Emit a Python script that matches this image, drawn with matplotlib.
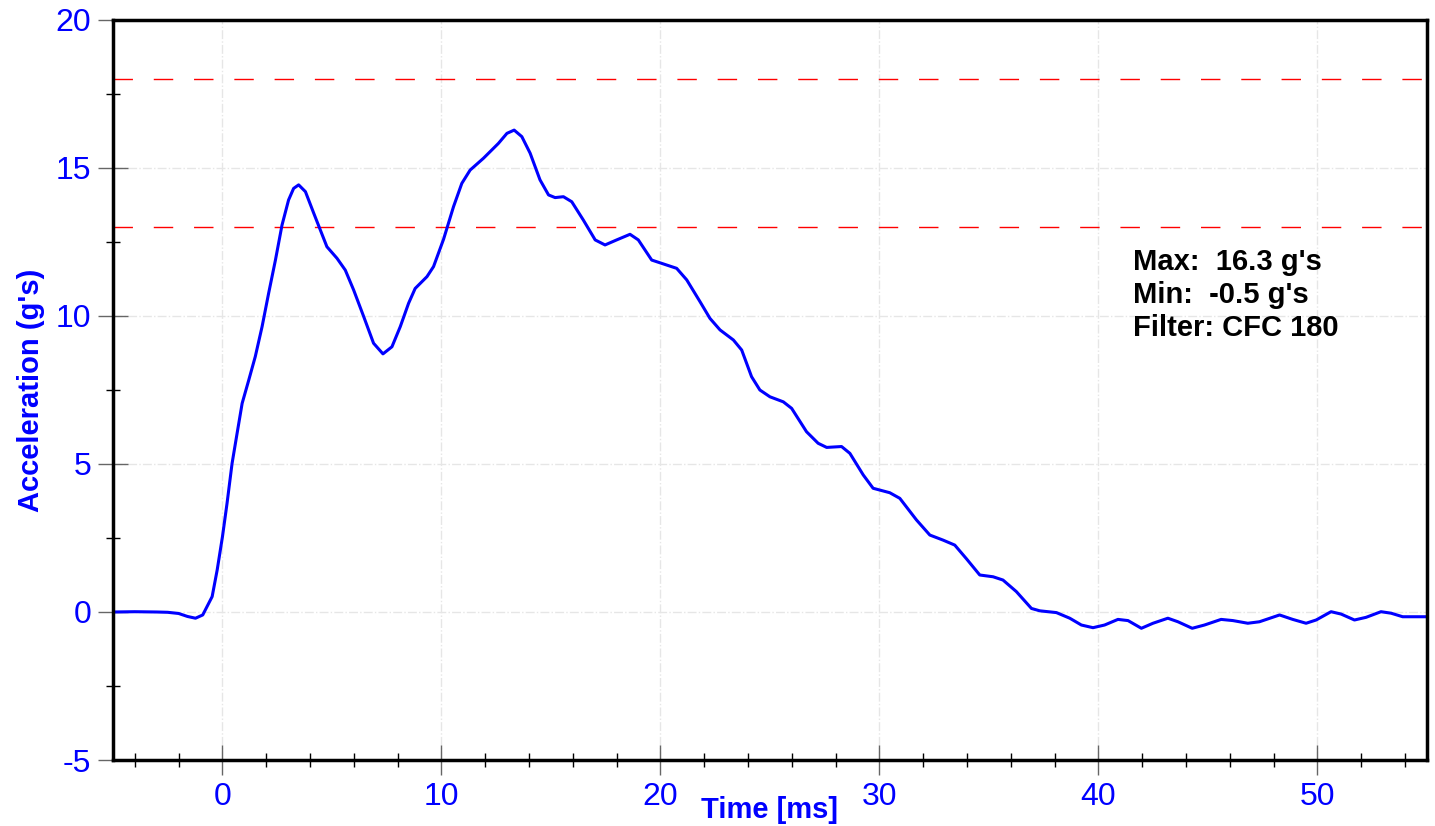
import matplotlib as mpl
mpl.use('Agg')
import matplotlib.pyplot as plt
from matplotlib.ticker import MultipleLocator

plt.rcParams['font.family'] = ['Liberation Sans', 'DejaVu Sans']
plt.rcParams['axes.unicode_minus'] = False

# time [ms] and acceleration [g's]
time_ms = [-5.0, -4.0, -3.0, -2.5, -2.0, -1.6, -1.23, -0.9, -0.47, -0.24, 0.0,
           0.21, 0.44, 0.67, 0.9, 1.2, 1.5, 1.81, 2.11, 2.42, 2.72, 3.02, 3.25,
           3.48, 3.79, 4.17, 4.77, 5.23, 5.61, 5.99, 6.45, 6.9, 7.33, 7.74, 8.12,
           8.5, 8.8, 9.34, 9.64, 10.1, 10.55, 10.93, 11.31, 11.92, 12.6, 12.99,
           13.32, 13.67, 14.05, 14.5, 14.89, 15.19, 15.57, 15.95, 16.48, 17.02,
           17.47, 18.0, 18.61, 18.99, 19.6, 20.13, 20.74, 21.2, 21.81, 22.26,
           22.72, 23.33, 23.71, 24.16, 24.54, 25.0, 25.61, 25.99, 26.67, 27.2,
           27.59, 28.27, 28.65, 29.26, 29.71, 30.47, 30.93, 31.69, 32.3, 32.9,
           33.44, 33.97, 34.58, 35.19, 35.64, 36.25, 36.94, 37.32, 38.08, 38.69,
           39.22, 39.75, 40.28, 40.89, 41.35, 41.96, 42.49, 43.17, 43.63, 44.28,
           44.84, 45.6, 46.14, 46.82, 47.35, 48.27, 48.87, 49.48, 49.94, 50.62,
           51.08, 51.69, 52.22, 52.9, 53.36, 53.89, 54.43, 55.0]
accel_g = [0.0, 0.01, 0.0, -0.01, -0.05, -0.15, -0.21, -0.1, 0.52, 1.42, 2.54,
           3.67, 5.02, 6.04, 7.05, 7.83, 8.63, 9.64, 10.77, 11.89, 13.07, 13.92,
           14.31, 14.43, 14.2, 13.47, 12.34, 11.95, 11.55, 10.88, 9.98, 9.08,
           8.72, 8.96, 9.64, 10.43, 10.93, 11.33, 11.67, 12.6, 13.69, 14.48,
           14.93, 15.33, 15.83, 16.17, 16.28, 16.06, 15.5, 14.6, 14.09, 14.0,
           14.03, 13.86, 13.24, 12.57, 12.4, 12.57, 12.76, 12.57, 11.89, 11.76,
           11.61, 11.22, 10.48, 9.92, 9.53, 9.19, 8.85, 7.95, 7.5, 7.27, 7.1,
           6.88, 6.09, 5.7, 5.56, 5.59, 5.36, 4.63, 4.18, 4.03, 3.84, 3.11, 2.6,
           2.43, 2.26, 1.8, 1.25, 1.19, 1.08, 0.69, 0.12, 0.04, -0.02, -0.21,
           -0.44, -0.53, -0.44, -0.25, -0.29, -0.55, -0.38, -0.21, -0.33, -0.55,
           -0.44, -0.25, -0.29, -0.38, -0.33, -0.1, -0.25, -0.38, -0.27, 0.01,
           -0.07, -0.27, -0.18, 0.01, -0.04, -0.16, -0.16, -0.16]

limits = [18, 13]
notes = ["Max:  16.3 g's", "Min:  -0.5 g's", "Filter: CFC 180"]

blue = '#0000ff'

fig = plt.figure(figsize=(14.35, 8.26), dpi=100)
ax = fig.add_axes([0.0787, 0.0799, 0.9157, 0.8959])

ax.grid(True, which='major', color='#e6e6e6', linestyle='-.', linewidth=1)
for lim in limits:
    ax.axhline(lim, color='red', linewidth=1, dashes=(14, 15))
ax.plot(time_ms, accel_g, color=blue, linewidth=2.2, solid_joinstyle='round')

ax.set_xlim(-5, 55)
ax.set_ylim(-5, 20)
ax.xaxis.set_major_locator(MultipleLocator(10))
ax.xaxis.set_minor_locator(MultipleLocator(2))
ax.yaxis.set_major_locator(MultipleLocator(5))
ax.yaxis.set_minor_locator(MultipleLocator(2.5))

ax.tick_params(which='major', direction='inout', length=21, width=1,
               color='0.4', labelsize=23, labelcolor=blue, pad=5)
ax.tick_params(which='minor', direction='inout', length=10, width=1,
               color='black')

for s in ax.spines.values():
    s.set_linewidth(2.5)
    s.set_color('black')

ax.set_xlabel("Time [ms]", fontsize=21, fontweight='bold', color=blue,
              labelpad=-11)
ax.set_ylabel("Acceleration (g's)", fontsize=21, fontweight='bold',
              color=blue, labelpad=8)

for i, line in enumerate(notes):
    ax.text(0.776, 0.673 - i * 0.0445, line, transform=ax.transAxes,
            fontsize=21, fontweight='bold', va='center', ha='left')

plt.savefig('out.png', dpi=100)
